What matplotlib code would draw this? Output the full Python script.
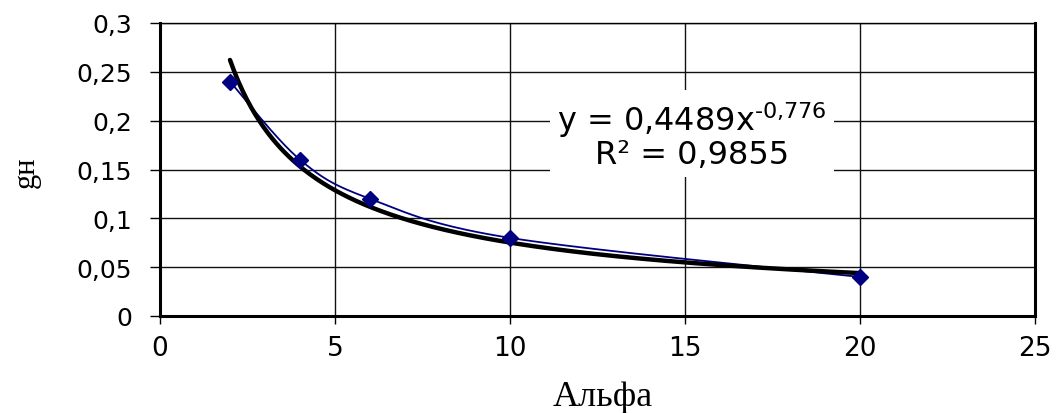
import numpy as np
import matplotlib
matplotlib.use('Agg')
import matplotlib.pyplot as plt

# ---- data ----
alpha = [2, 4, 6, 10, 20]
gn = [0.24, 0.16, 0.12, 0.08, 0.04]
trend_coef = 0.4489
trend_exp = -0.776
x_ticks = [0, 5, 10, 15, 20, 25]
x_tick_labels = ['0', '5', '10', '15', '20', '25']
y_ticks = [0, 0.05, 0.1, 0.15, 0.2, 0.25, 0.3]
y_tick_labels = ['0', '0,05', '0,1', '0,15', '0,2', '0,25', '0,3']
x_label = 'Альфа'
y_label = 'gн'
eq_text = 'y = 0,4489x$^{\\mathregular{\u20100{,}776}}$'
r2_text = 'R² = 0,9855'

X_MAX, Y_MAX = 25, 0.3


def smooth_curve(xs, ys, n=40, sx=875 / 25, sy=293 / 0.3):
    """Catmull-Rom style smoothing (like Excel's smoothed line) in screen-proportional space."""
    P = np.column_stack([np.asarray(xs, float) * sx, np.asarray(ys, float) * sy])
    m = len(P)
    out = []
    for i in range(m - 1):
        p0 = P[i - 1] if i > 0 else P[i]
        p1, p2 = P[i], P[i + 1]
        p3 = P[i + 2] if i + 2 < m else P[i + 1]
        c1 = p1 + (p2 - p0) / 6.0
        c2 = p2 - (p3 - p1) / 6.0
        t = np.linspace(0, 1, n)[:, None]
        seg = ((1 - t) ** 3) * p1 + 3 * ((1 - t) ** 2) * t * c1 + 3 * (1 - t) * t ** 2 * c2 + t ** 3 * p2
        out.append(seg if i == 0 else seg[1:])
    S = np.vstack(out)
    return S[:, 0] / sx, S[:, 1] / sy


fig = plt.figure(figsize=(10.64, 4.14), dpi=100)
ax = fig.add_axes([160 / 1064, 1 - 317 / 414, (1035 - 160) / 1064, (317 - 24) / 414])

ax.set_xlim(0, X_MAX)
ax.set_ylim(0, Y_MAX)
ax.set_xticks(x_ticks)
ax.set_xticklabels(x_tick_labels)
ax.set_yticks(y_ticks)
ax.set_yticklabels(y_tick_labels)

ax.grid(True, color='#111111', linewidth=1.0, zorder=0)
ax.set_axisbelow(True)

for side in ['left', 'bottom', 'right']:
    ax.spines[side].set_linewidth(2.2)
    ax.spines[side].set_color('black')
ax.spines['top'].set_linewidth(1.0)

ax.tick_params(axis='y', direction='out', length=7, width=1, pad=13, labelsize=18)
ax.tick_params(axis='x', direction='out', length=6, width=1, pad=8, labelsize=19)
for lbl in ax.get_xticklabels() + ax.get_yticklabels():
    lbl.set_fontfamily('DejaVu Sans')

# blue smoothed data series
sx_, sy_ = smooth_curve(alpha, gn)
ax.plot(sx_, sy_, color='#000080', linewidth=1.3, zorder=3)

# power trend line
xt = np.linspace(min(alpha), max(alpha), 300)
ax.plot(xt, trend_coef * xt ** trend_exp, color='black', linewidth=3.2,
        solid_capstyle='round', zorder=4)

# markers
ax.plot(alpha, gn, linestyle='none', marker='D', markersize=8,
        color='#000080', zorder=5)

# equation box
ax.text(15.2, 0.186, eq_text + '\n' + r2_text, ha='center', va='center',
        multialignment='center', fontsize=23, family='DejaVu Sans',
        linespacing=1.0, zorder=6,
        bbox=dict(facecolor='white', edgecolor='none', pad=5))

fig.text(603 / 1064, 1 - 398 / 414, x_label, ha='center', va='center',
         fontsize=26, family=['Liberation Serif', 'DejaVu Serif'])
fig.text(26 / 1064, 1 - 172 / 414, y_label, ha='center', va='center',
         rotation=90, fontsize=22, family=['Liberation Serif', 'DejaVu Serif'])

fig.savefig('out.png', dpi=100)
